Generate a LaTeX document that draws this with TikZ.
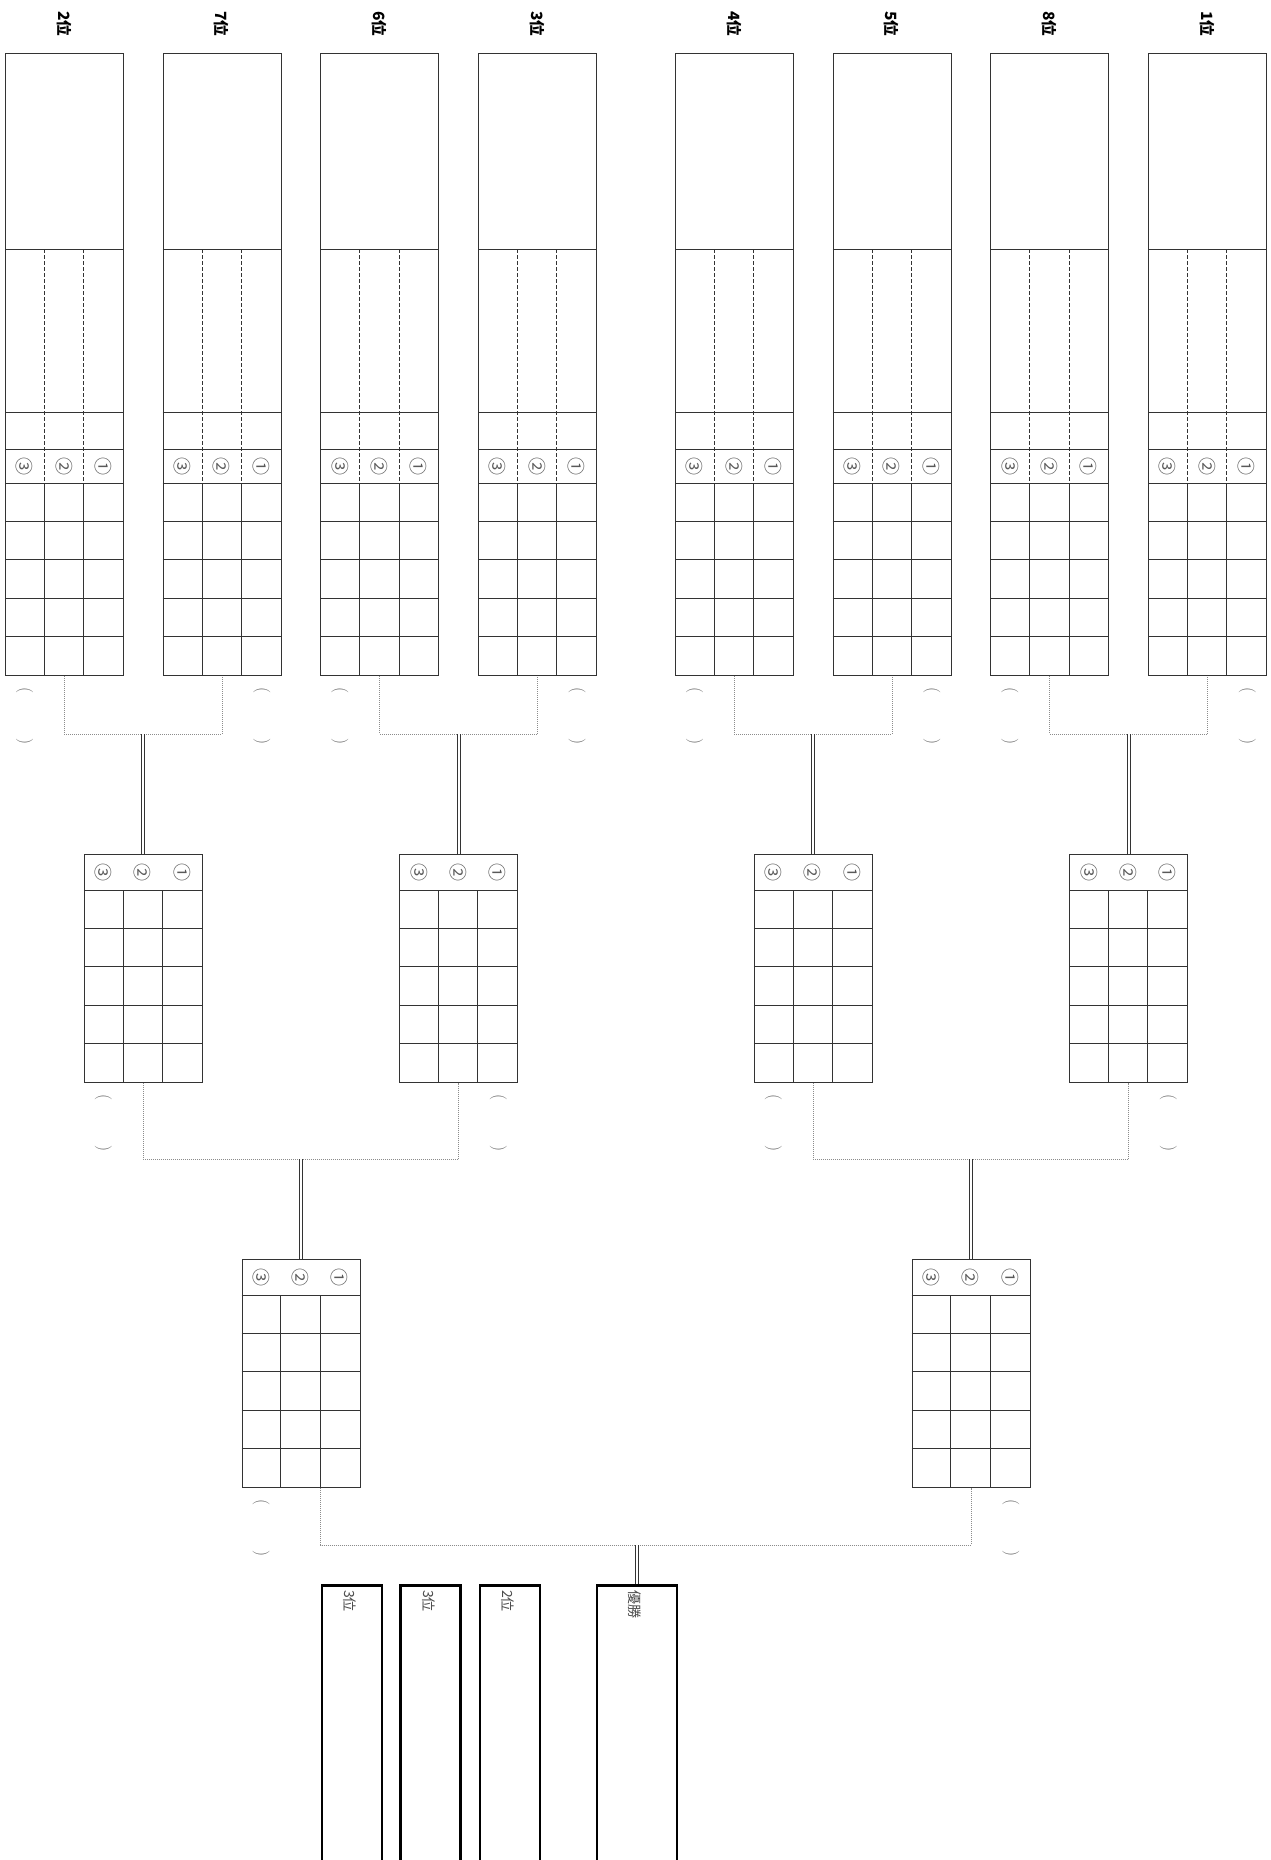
\documentclass[tikz,border=0pt]{standalone}
\usepackage{fontspec}
\newfontfamily\jp{Noto Sans CJK JP}
\usetikzlibrary{positioning, calc}

\begin{document}
\begin{tikzpicture}[
        x=1pt, y=-1pt,
        rule/.style={draw=black!80, line width=0.9pt},
        entrycard/.style={rectangle, rule, anchor=north west, minimum width=118pt, minimum height=622pt, inner sep=0pt},
        matchcard/.style={rectangle, rule, anchor=north west, minimum width=118pt, minimum height=228pt, inner sep=0pt},
        placebox/.style={rectangle, draw=black, line width=2.6pt, anchor=north west, minimum height=279pt, inner sep=0pt},
        rankhead/.style={font=\jp\bfseries\fontsize{15.5}{17}\selectfont, rotate=-90, inner sep=0pt},
        placelabel/.style={font=\jp\fontsize{14}{16}\selectfont, text=black!70, rotate=-90, anchor=west, inner sep=0pt},
        numtag/.style={font=\jp\fontsize{18}{20}\selectfont, text=black!65, rotate=-90, inner sep=0pt},
        score/.style={font=\fontsize{17}{19}\selectfont, text=black!60, rotate=-90, inner sep=0pt},
        link/.style={draw=black!45, line width=0.8pt, dash pattern=on 1pt off 1pt},
        tie/.style={draw=black!80, line width=1pt, double, double distance=2pt}
    ]
    \fill[white, use as bounding box] (0,0) rectangle (1270,1860);

    \foreach \x/\rk [count=\i] in {5/2, 162.7/7, 320.3/6, 478/3, 675/4, 832.7/5, 990.3/8, 1148/1} {
        \node[entrycard] (entry\i) at (\x,53) {};
        \node[rankhead] at (\x+59,24) {\rk 位};
        \foreach \y in {249, 412, 449, 483, 521.4, 559.8, 598.2, 636.6}
            \draw[rule] (\x,\y) -- ++(118,0);
        \foreach \cx in {39.33, 78.67} {
            \draw[rule, dash pattern=on 4pt off 2pt] (\x+\cx,249) -- (\x+\cx,483);
            \draw[rule] (\x+\cx,483) -- (\x+\cx,675);
        }
        \foreach \cx/\nt in {19.67/③, 59/②, 98.33/①}
            \node[numtag] at (\x+\cx,466) {\nt};
    }

    \foreach \x/\y/\nm in {83.8/854/qf1, 399.2/854/qf2, 753.8/854/qf3, 1069.2/854/qf4, 241.5/1259/sf1, 911.5/1259/sf2} {
        \node[matchcard] (\nm) at (\x,\y) {};
        \foreach \dy in {36, 74.4, 112.8, 151.2, 189.6}
            \draw[rule] (\x,\y+\dy) -- ++(118,0);
        \foreach \cx in {39.33, 78.67}
            \draw[rule] (\x+\cx,\y+36) -- (\x+\cx,\y+228);
        \foreach \cx/\nt in {19.67/③, 59/②, 98.33/①}
            \node[numtag] at (\x+\cx,\y+18) {\nt};
    }

    \foreach \nd in {entry1, entry3, entry5, entry7, qf1, qf3, sf1}
        \node[score] at ($(\nd.south west)+(19.67,40)$) {(\hspace{45pt})};
    \foreach \nd in {entry2, entry4, entry6, entry8, qf2, qf4, sf2}
        \node[score] at ($(\nd.south east)+(-19.67,40)$) {(\hspace{45pt})};

    \foreach \a/\b [count=\k] in {1/2, 3/4, 5/6, 7/8} {
        \draw[link] (entry\a.south) -- ++(0,58) coordinate (join\k) -| (entry\b.south);
        \draw[tie] (qf\k.north) -- (qf\k.north |- join\k);
    }
    \foreach \a/\b [count=\k] in {1/2, 3/4} {
        \draw[link] (qf\a.south) -- ++(0,76.5) coordinate (semi\k) -| (qf\b.south);
        \draw[tie] (sf\k.north) -- (sf\k.north |- semi\k);
    }

    \foreach \x/\w/\nm/\txt in {320.7/60/thirdA/3位, 399.3/60/thirdB/3位, 478.5/60/second/2位, 595.5/80/champ/優勝}
        {
        \node[placebox, minimum width=\w pt] (\nm) at (\x,1584) {};
        \node[placelabel] at ($(\nm.north)+(-2,6)$) {\txt};
        }
    \draw[link] ($(sf1.south)+(19.67,0)$) -- ++(0,57) coordinate (finalrow) -| (sf2.south);
    \draw[tie] (champ.north) -- (champ.north |- finalrow);
\end{tikzpicture}
\end{document}
